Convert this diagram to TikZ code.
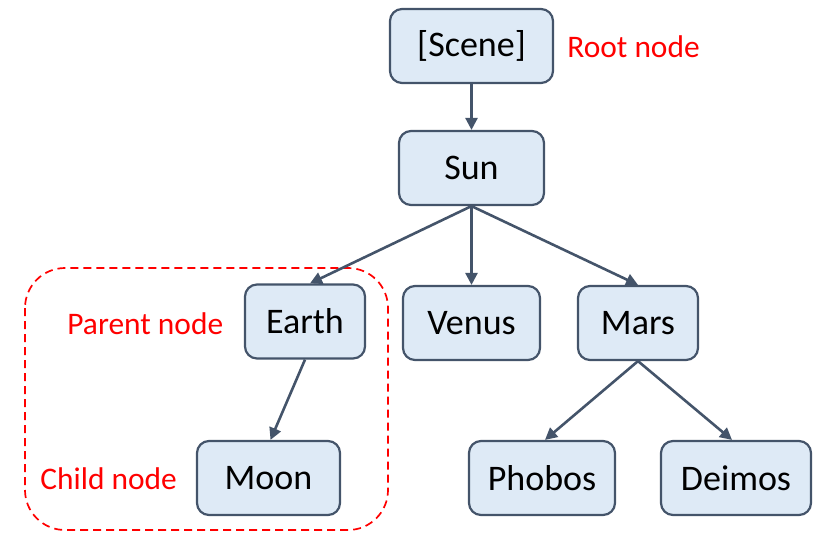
\documentclass[tikz,border=0pt]{standalone}
\usepackage{fontspec}
\setmainfont{Carlito}
\usetikzlibrary{arrows.meta,positioning}
\definecolor{boxfill}{HTML}{DEEAF6}
\definecolor{boxline}{HTML}{44546A}
\definecolor{lblred}{HTML}{FF0000}
\tikzset{
  treebox/.style={draw=boxline, fill=boxfill, line width=1.1pt, rounded corners=6pt,
    minimum height=37pt, inner sep=0pt, font=\fontsize{18}{20}\selectfont, text=black},
  link/.style={draw=boxline, line width=1.3pt, -{Triangle[length=6pt,width=6pt]}},
  redlabel/.style={text=lblred, font=\fontsize{15.7}{18}\selectfont, inner sep=0pt},
  groupbox/.style={draw=lblred, line width=0.85pt, dash pattern=on 4pt off 2.5pt, rounded corners=20pt}
}
\begin{document}
\begin{tikzpicture}[x=0.5pt,y=-0.5pt]
\useasboundingbox (0,0) rectangle (823,541);
\draw[groupbox] (25,268) rectangle (388,530);
\node[treebox, minimum width=81.5pt] (scene) at (471.5,46) {[Scene]};
\node[treebox, minimum width=72.5pt] (sun) at (471.5,168) {Sun};
\node[treebox, minimum width=60pt] (earth) at (305,321.5) {Earth};
\node[treebox, minimum width=68.5pt] (venus) at (471.5,323) {Venus};
\node[treebox, minimum width=60pt] (mars) at (638,323) {Mars};
\node[treebox, minimum width=71.5pt] (moon) at (268.5,478) {Moon};
\node[treebox, minimum width=73pt] (phobos) at (542,478) {Phobos};
\node[treebox, minimum width=75pt] (deimos) at (736,478) {Deimos};
\node[redlabel, anchor=west] (root) at (567,47) {Root node};
\node[redlabel, anchor=west] (parent) at (67,324) {Parent node};
\node[redlabel, anchor=west] (child) at (40,479) {Child node};
\draw[link] (scene.south) -- (sun.north);
\draw[link] (sun.south) -- ([xshift=2.5pt]earth.north);
\draw[link] (sun.south) -- (venus.north);
\draw[link] (sun.south) -- (mars.north);
\draw[link] (earth.south) -- ([xshift=1pt]moon.north);
\draw[link] (mars.south) -- ([xshift=1.5pt]phobos.north);
\draw[link] (mars.south) -- ([xshift=-2pt]deimos.north);
\end{tikzpicture}
\end{document}
